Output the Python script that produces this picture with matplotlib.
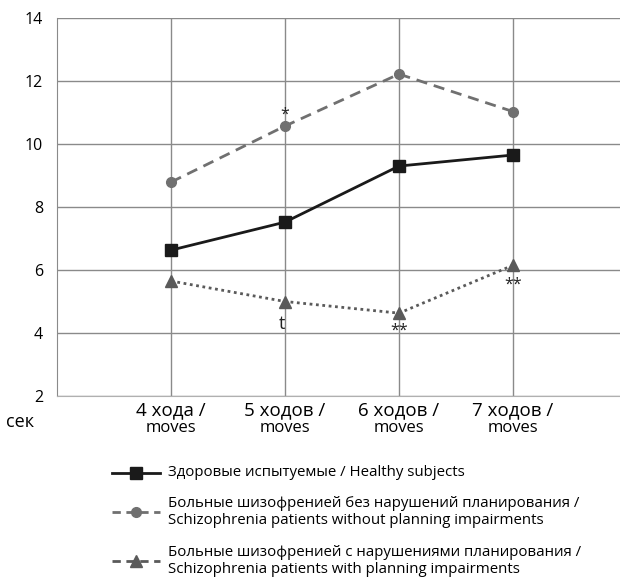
import matplotlib.pyplot as plt
from matplotlib.lines import Line2D

plt.rcParams['font.family'] = ['Open Sans', 'DejaVu Sans']

categories = ['4 хода /', '5 ходов /', '6 ходов /', '7 ходов /']
healthy = [6.63, 7.52, 9.30, 9.65]
without_impair = [8.79, 10.57, 12.22, 11.03]
with_impair = [5.65, 5.0, 4.63, 6.15]

labels = ['Здоровые испытуемые / Healthy subjects',
          'Больные шизофренией без нарушений планирования /\nSchizophrenia patients without planning impairments',
          'Больные шизофренией с нарушениями планирования /\nSchizophrenia patients with planning impairments']

# significance marks: (series, index, text, offset)
marks = [(without_impair, 1, '*', 0.35), (with_impair, 1, 't', -0.7),
         (with_impair, 2, '**', -0.55), (with_impair, 3, '**', -0.6)]

W, H = 620, 577
fig = plt.figure(figsize=(W / 100, H / 100), dpi=100)
ax = fig.add_axes([57 / W, 1 - 396 / H, 1 - 57 / W, 378 / H])

x = [1, 2, 3, 4]
ax.plot(x, healthy, color='#1a1a1a', lw=2, marker='s', ms=8, zorder=4)
ax.plot(x, without_impair, color='#707070', lw=2, ls=(0, (4, 2.5)), marker='o', ms=7, zorder=3)
ax.plot(x, with_impair, color='#5a5a5a', lw=2, ls=(0, (1, 1.3)), marker='^', ms=8, zorder=3)

for s, i, t, off in marks:
    fs = 13 if t == 't' else 11.5
    ax.text(x[i] - (0.03 if t == 't' else 0), s[i] + off, t, ha='center', va='center',
            fontsize=fs, color='#222222')

ax.set_xlim(0, (W - 57) / 114)
ax.set_ylim(2, 14)
ax.set_yticks(range(2, 15, 2))
ax.set_xticks(x)
ax.set_xticklabels([])
ax.tick_params(length=0, labelsize=11.5, pad=10)
ax.grid(True, color='#8a8a8a', lw=1)
for side in ['top', 'right']:
    ax.spines[side].set_visible(False)
ax.spines['left'].set_color('#8a8a8a')
ax.spines['bottom'].set_color('#b0b0b0')

for xi, c in zip(x, categories):
    ax.text(xi, 1.55, c, ha='center', va='center', fontsize=13.5)
    ax.text(xi, 0.97, 'moves', ha='center', va='center', fontsize=12)
fig.text(20 / W, 1 - 422 / H, 'сек', ha='center', va='center', fontsize=13)

# legend drawn by hand so the rows sit where the reference has them
styles = [dict(color='#1a1a1a', ls='-', marker='s', ms=8),
          dict(color='#707070', ls=(0, (3, 2)), marker='o', ms=7),
          dict(color='#5a5a5a', ls=(0, (3, 2)), marker='^', ms=8)]
rows_y = [473, 512, 561]
for st, lab, yy in zip(styles, labels, rows_y):
    yf = 1 - yy / H
    fig.add_artist(Line2D([112 / W, 160 / W], [yf, yf], lw=2, transform=fig.transFigure,
                          color=st['color'], ls=st['ls']))
    fig.add_artist(Line2D([136 / W], [yf], transform=fig.transFigure,
                          color=st['color'], marker=st['marker'], ms=st['ms'], ls='none'))
    fig.text(168 / W, yf, lab, ha='left', va='center', fontsize=10.8, linespacing=1.12)

fig.savefig('out.png', dpi=100)
